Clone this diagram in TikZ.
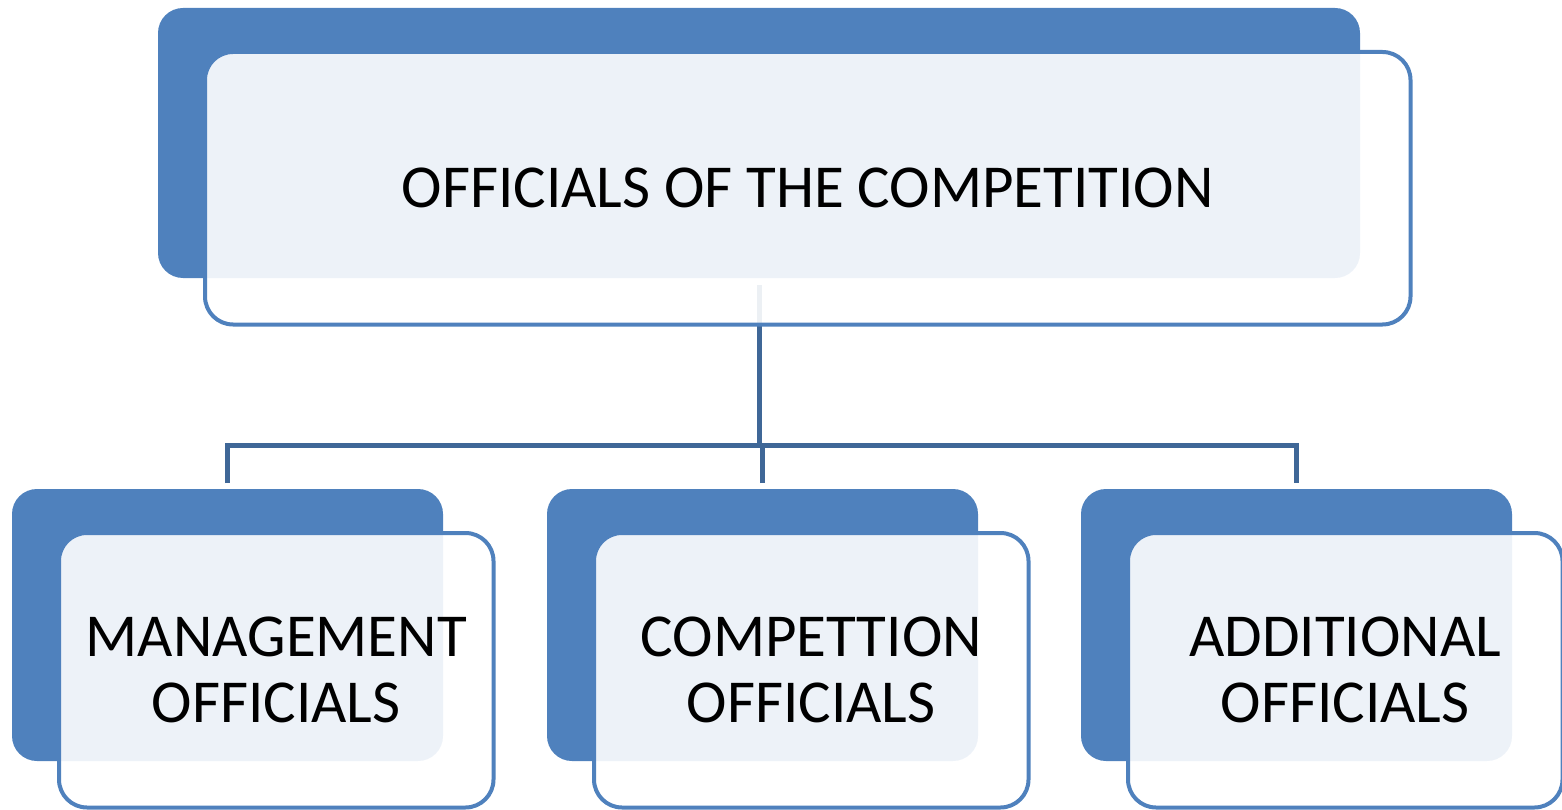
\documentclass[tikz,border=0pt]{standalone}
\usepackage{fontspec}
\setmainfont{Carlito}
\usepackage{xcolor}
\usepackage{tikz}
\usetikzlibrary{positioning, backgrounds}
\definecolor{accentBlue}{HTML}{4F81BD}
\definecolor{linkBlue}{HTML}{3F6797}
\tikzset{back-box/.style={fill=accentBlue, rounded corners=25pt, inner sep=0, outer sep=0, anchor=north west}}
\tikzset{front-box/.style={draw=accentBlue, line width=4pt, fill=white, fill opacity=0.9, text opacity=1,
    rounded corners=28pt, inner sep=0, outer sep=0, align=center,
    font=\fontsize{61}{66}\selectfont}}
\tikzset{link-line/.style={draw=linkBlue, line width=5pt}}
\newcommand{\officialsbox}[5] {
    \node[back-box, minimum width=#3, minimum height=#4, #2] (back#1) {};
    \node[front-box, minimum width=#3+3.5pt, minimum height=#4+2.5pt,
          below right=44pt and 47pt of back#1.north west] (front#1) {#5};
}

\begin{document}
\begin{tikzpicture}
    \useasboundingbox (0,0) rectangle (1562pt,-810pt);
    \officialsbox{0}{at={(158pt,-8pt)}}{1202pt}{270pt}{OFFICIALS OF THE COMPETITION}
    \officialsbox{1}{at={(12pt,-489pt)}}{431pt}{272pt}{MANAGEMENT\\OFFICIALS}
    \officialsbox{2}{right=104pt of back1}{431pt}{272pt}{COMPETTION\\OFFICIALS}
    \officialsbox{3}{right=103pt of back2}{431pt}{272pt}{ADDITIONAL\\OFFICIALS}

    \begin{scope}[on background layer]
        \draw[link-line] ([yshift=-7pt]back0.south) -- ([yshift=44pt]back0.south |- back2.north);
        \draw[link-line] ([yshift=6pt]back1.north) |- ([yshift=44pt]back3.north) -- ([yshift=6pt]back3.north);
        \draw[link-line] ([yshift=6pt]back2.north) -- ([yshift=44pt]back2.north);
    \end{scope}
\end{tikzpicture}
\end{document}
